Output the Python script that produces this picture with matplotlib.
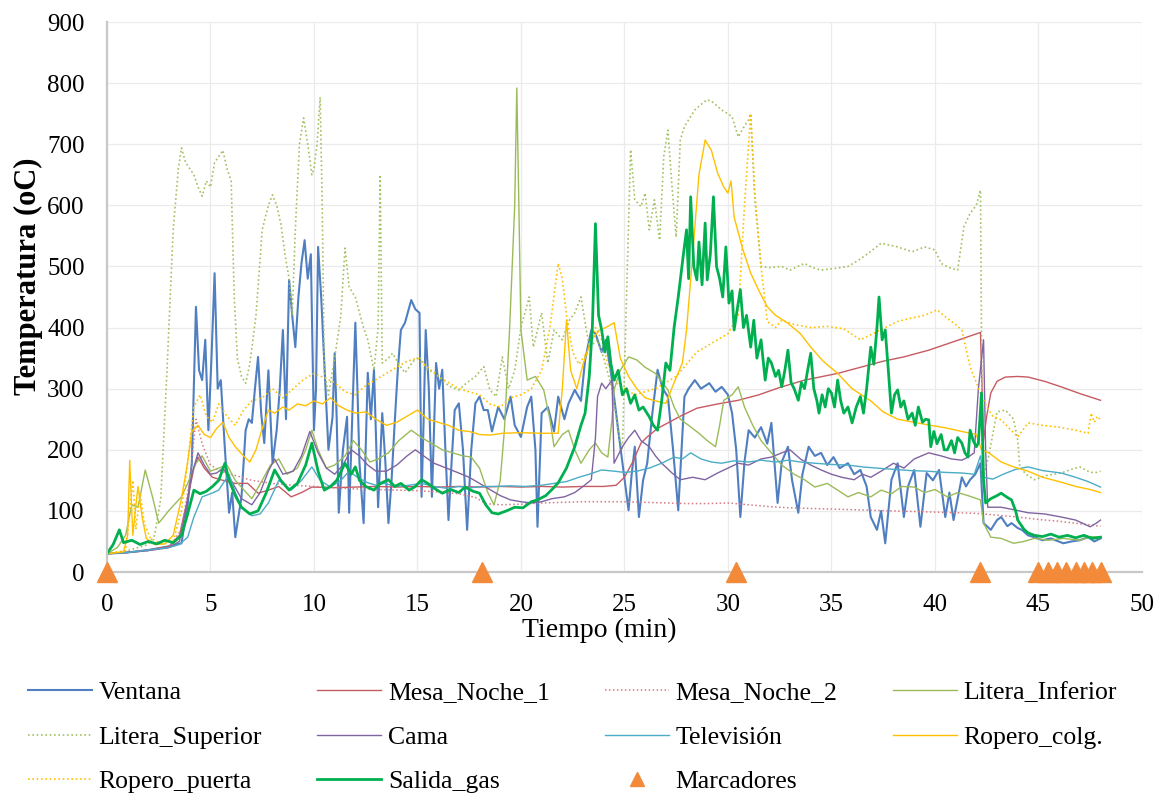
import numpy as np
import matplotlib.pyplot as plt
from matplotlib.lines import Line2D

plt.rcParams["font.family"] = ["Liberation Serif", "DejaVu Serif"]

#############################################################
##################### Data (min, oC) ########################
#############################################################

ventana = [(0,30),(1,32),(2,36),(3,42),(3.6,47),(3.9,110),(4.1,178),(4.3,434),(4.45,330),(4.6,314),
    (4.75,380),(4.9,232),(5.05,350),(5.2,489),(5.35,300),(5.5,314),(5.7,200),(5.9,97),(6.05,130),(6.2,57),
    (6.35,90),(6.5,123),(6.7,232),(6.85,250),(7.0,244),(7.15,300),(7.3,352),(7.45,260),(7.6,211),(7.8,330),
    (8.0,178),(8.2,232),(8.35,300),(8.5,396),(8.65,250),(8.8,478),(8.95,420),(9.1,368),(9.25,450),(9.4,506),
    (9.55,543),(9.7,480),(9.85,520),(10.0,232),(10.1,300),(10.2,532),(10.35,450),(10.5,342),(10.7,200),
    (10.9,254),(11.0,358),(11.1,250),(11.2,97),(11.4,200),(11.6,254),(11.7,97),(11.85,250),(12.0,408),
    (12.1,300),(12.2,178),(12.4,80),(12.6,326),(12.75,250),(12.9,331),(13.1,106),(13.3,260),(13.45,180),
    (13.6,80),(13.75,150),(13.9,244),(14.05,330),(14.2,396),(14.4,408),(14.7,445),(14.9,430),(15.1,424),
    (15.2,123),(15.3,250),(15.4,396),(15.55,300),(15.7,123),(15.9,342),(16.05,300),(16.2,331),(16.35,200),
    (16.5,85),(16.65,180),(16.8,265),(17.0,276),(17.2,200),(17.4,69),(17.6,200),(17.8,276),(18.0,287),
    (18.2,265),(18.4,265),(18.6,230),(18.9,270),(19.2,250),(19.5,287),(19.7,240),(20.0,221),(20.3,270),
    (20.5,287),(20.7,200),(20.8,74),(21.0,260),(21.3,270),(21.6,230),(21.8,287),(22.1,250),(22.3,276),
    (22.6,298),(22.9,280),(23.1,347),(23.4,396),(23.6,390),(23.9,360),(24.1,380),(24.4,314),(24.7,232),
    (24.9,180),(25.2,101),(25.35,160),(25.5,205),(25.7,90),(25.9,150),(26.1,178),(26.35,260),(26.6,331),
    (26.85,300),(27.1,287),(27.35,200),(27.6,101),(27.9,287),(28.1,300),(28.4,314),(28.7,300),(29.1,309),
    (29.4,295),(29.7,303),(30.0,290),(30.2,260),(30.4,200),(30.6,90),(30.8,180),(31.0,232),(31.3,220),
    (31.6,237),(31.9,210),(32.1,244),(32.4,113),(32.6,180),(32.9,205),(33.1,150),(33.4,97),(33.6,160),
    (33.9,205),(34.2,190),(34.5,195),(34.8,175),(35.1,188),(35.4,170),(35.8,178),(36.1,160),(36.4,167),
    (36.7,140),(36.9,90),(37.2,69),(37.4,100),(37.6,47),(37.9,151),(38.2,178),(38.5,90),(38.7,140),
    (39.0,167),(39.3,74),(39.6,162),(39.9,150),(40.2,167),(40.5,90),(40.7,130),(40.9,85),(41.1,120),
    (41.3,155),(41.5,140),(41.7,151),(41.95,160),(42.2,178),(42.35,80),(42.7,69),(43.0,85),(43.2,90),
    (43.5,75),(43.7,80),(44.0,72),(44.2,69),(44.5,60),(44.8,57),(45.2,52),(45.6,55),(46.2,47),(46.6,50),
    (47.0,52),(47.4,57),(47.7,50),(48.0,55)]

mesa_noche_1 = [(0,30),(1,32),(2,36),(3,42),(3.5,60),(3.9,120),(4.2,170),(4.4,188),(4.7,170),(5.1,155),
    (5.6,150),(6.2,145),(6.8,145),(7.3,129),(7.8,134),(8.3,140),(8.9,123),(9.4,130),(9.9,139),(11,138),
    (12,139),(13,140),(14,139),(15,140),(16,139),(17,140),(18,139),(19,140),(20,139),(21,140),(22,139),
    (23,140),(24,140),(24.6,142),(25.0,155),(25.4,180),(25.8,211),(26.1,221),(26.6,235),(27.1,244),
    (27.7,255),(28.5,268),(29.5,275),(30.5,281),(31.5,290),(32.5,302),(33.7,314),(35.3,325),(36.4,335),
    (37.5,345),(38.5,352),(39.7,363),(41.0,378),(42.2,392),(42.35,215),(42.5,255),(42.7,293),(43.0,312),
    (43.4,319),(44.0,320),(44.5,319),(45.3,312),(46.1,303),(47.0,292),(48.0,281)]

mesa_noche_2 = [(0,30),(1,32),(2,35),(3,40),(3.6,70),(4.0,150),(4.3,250),(4.6,210),(5.0,175),(5.5,165),
    (6.0,160),(7.0,150),(8.0,145),(9.0,142),(10.0,140),(11.0,138),(12.0,136),(13.0,135),(14.0,134),
    (15.0,133),(16.0,131),(17.0,128),(17.8,122),(18.3,112),(19.0,110),(20.0,111),(21.0,113),(22.0,114),
    (23.0,115),(24.0,115),(25.0,115),(26.0,114),(27.0,113),(28.0,112),(29.0,112),(30.0,113),(31.0,110),
    (32.0,107),(33.0,105),(34.0,104),(35.0,103),(36.0,102),(37.0,101),(38.0,100),(39.0,99),(40.0,98),
    (41.0,97),(42.0,96),(43.0,93),(44.0,90),(45.0,86),(46.0,83),(47.0,79),(48.0,75)]

litera_inferior = [(0,30),(0.5,40),(0.9,60),(1.2,110),(1.5,106),(1.85,167),(2.2,123),(2.5,80),(3.0,101),
    (3.6,123),(3.9,145),(4.3,178),(4.6,190),(5.0,165),(5.4,170),(5.8,175),(6.2,150),(6.6,135),(7.0,120),
    (7.5,150),(7.9,175),(8.3,185),(8.7,160),(9.2,170),(9.6,200),(9.9,232),(10.2,200),(10.6,170),(11.0,175),
    (11.5,190),(11.9,215),(12.3,200),(12.7,180),(13.1,185),(13.6,195),(14.1,215),(14.7,232),(15.2,220),
    (15.7,210),(16.2,200),(16.7,195),(17.2,190),(17.6,188),(18.0,170),(18.4,130),(18.7,110),(19.0,150),
    (19.2,232),(19.45,396),(19.7,600),(19.8,792),(19.9,600),(20.0,396),(20.3,314),(20.7,320),(21.1,298),
    (21.4,250),(21.6,205),(22.0,225),(22.3,232),(22.6,200),(22.9,178),(23.3,200),(23.6,211),(23.9,195),
    (24.2,188),(24.4,250),(24.5,298),(24.8,330),(25.2,352),(25.6,347),(26.0,335),(26.5,325),(27.1,298),
    (27.4,270),(27.7,250),(28.1,240),(28.6,227),(29.0,215),(29.4,205),(29.6,240),(29.8,281),(30.2,290),
    (30.5,303),(30.8,270),(31.2,240),(31.6,215),(32.1,195),(32.6,175),(33.2,160),(33.7,151),(34.2,139),
    (34.8,145),(35.3,134),(35.8,123),(36.3,130),(36.9,123),(37.4,134),(37.9,128),(38.4,140),(39.0,139),
    (39.5,130),(40.0,135),(40.6,123),(41.1,130),(41.6,125),(42.2,118),(42.35,80),(42.7,57),(43.2,55),
    (43.8,47),(44.3,50),(44.8,55),(45.5,52),(46.2,55),(47.0,52),(47.5,58),(48.0,57)]

litera_superior = [(0,30),(1,35),(2,45),(2.3,60),(2.6,120),(2.9,330),(3.2,560),(3.45,660),(3.6,694),
    (3.8,670),(4.0,660),(4.2,650),(4.4,630),(4.6,615),(4.8,640),(5.0,630),(5.2,670),(5.4,680),(5.6,690),
    (5.8,660),(6.0,640),(6.15,450),(6.3,350),(6.5,320),(6.7,309),(6.9,340),(7.2,420),(7.5,560),(7.8,600),
    (8.0,617),(8.2,600),(8.4,570),(8.6,520),(8.8,480),(8.95,420),(9.1,560),(9.3,700),(9.5,743),(9.7,700),
    (9.9,650),(10.0,660),(10.15,700),(10.3,777),(10.4,600),(10.5,330),(10.7,290),(11.0,350),(11.3,420),
    (11.5,530),(11.7,466),(12.0,450),(12.2,424),(12.4,400),(12.6,380),(12.9,330),(13.1,400),(13.2,650),
    (13.3,342),(13.6,350),(13.8,358),(14.1,340),(14.4,326),(14.8,345),(15.1,352),(15.5,330),(15.9,326),
    (16.3,310),(16.6,303),(17.0,298),(17.4,310),(17.8,320),(18.2,336),(18.5,298),(18.8,287),(19.1,352),
    (19.4,300),(19.7,330),(20.0,400),(20.4,450),(20.6,368),(21.0,424),(21.3,342),(21.6,396),(22.0,380),
    (22.3,410),(22.6,424),(22.9,450),(23.3,368),(23.7,380),(24.0,350),(24.4,300),(24.7,230),(24.9,200),
    (25.1,450),(25.3,691),(25.5,609),(25.8,598),(26.0,620),(26.2,560),(26.45,609),(26.7,543),(26.9,680),
    (27.1,723),(27.3,630),(27.5,548),(27.7,707),(27.9,729),(28.1,740),(28.4,756),(28.7,765),(29.0,773),
    (29.3,768),(29.7,756),(30.0,750),(30.2,745),(30.5,712),(30.8,730),(31.0,740),(31.1,750),(31.3,609),
    (31.6,500),(32.0,498),(32.6,500),(33.0,494),(33.7,505),(34.1,498),(34.5,494),(35.2,497),(35.8,500),
    (36.3,510),(36.8,522),(37.4,538),(37.8,535),(38.2,532),(38.9,524),(39.5,532),(40.0,527),(40.3,505),
    (40.7,498),(41.1,494),(41.4,565),(41.7,587),(42.0,600),(42.2,625),(42.3,150),(42.6,190),(43.0,262),
    (43.4,265),(43.8,250),(44.0,216),(44.1,172),(44.4,160),(44.8,151),(45.4,158),(46.1,162),(46.6,168),
    (47.0,172),(47.4,165),(47.7,162),(48.0,165)]

cama = [(0,30),(1,32),(2,35),(3,40),(3.5,50),(3.8,100),(4.1,160),(4.4,195),(4.7,175),(5.0,160),(5.3,162),
    (5.6,170),(6.0,150),(6.5,120),(7.0,110),(7.4,130),(7.8,165),(8.1,185),(8.5,160),(9.0,165),(9.4,190),
    (9.8,230),(10.2,195),(10.6,170),(11.0,160),(11.4,175),(11.8,200),(12.2,190),(12.6,175),(13.0,165),
    (13.5,165),(14.0,175),(14.5,190),(14.9,200),(15.3,190),(15.8,178),(16.4,170),(17.0,162),(17.5,155),
    (18.0,145),(18.5,135),(19.0,125),(19.5,118),(20.0,115),(20.5,113),(21.0,115),(21.5,120),(22.1,123),
    (22.6,130),(23.0,140),(23.4,151),(23.6,220),(23.7,287),(23.9,309),(24.1,300),(24.4,314),(24.5,178),
    (24.9,205),(25.2,220),(25.5,232),(25.8,215),(26.2,205),(26.5,190),(26.8,178),(27.3,162),(27.7,151),
    (28.3,155),(28.9,151),(29.5,162),(30.0,170),(30.5,178),(31.0,175),(31.6,185),(32.1,188),(32.6,195),
    (33.0,200),(33.5,185),(34.0,175),(34.5,167),(35.0,160),(35.5,155),(36.1,151),(36.5,160),(36.9,155),
    (37.4,165),(38.0,178),(38.5,170),(39.0,185),(39.7,195),(40.3,190),(40.8,185),(41.3,183),(41.6,188),
    (41.9,195),(42.1,300),(42.35,380),(42.45,200),(42.55,106),(43.2,106),(43.8,102),(44.5,97),(45.3,95),
    (46.1,90),(46.8,85),(47.5,74),(47.8,80),(48.0,85)]

television = [(0,30),(1,32),(2,36),(3,40),(3.5,45),(3.9,57),(4.2,90),(4.6,123),(5.0,128),(5.4,134),
    (5.9,160),(6.2,130),(6.5,106),(7.0,92),(7.4,95),(7.8,113),(8.3,150),(8.9,134),(9.4,150),(9.9,172),
    (10.3,150),(10.8,139),(11.3,150),(11.7,165),(12.1,155),(12.6,146),(13.0,142),(13.4,145),(14.0,140),
    (14.6,142),(15.2,145),(15.8,140),(16.4,137),(17.0,140),(17.6,138),(18.2,140),(18.8,140),(19.5,141),
    (20.2,140),(21.0,142),(21.6,145),(22.2,148),(22.8,155),(23.3,160),(23.9,167),(24.5,165),(25.0,163),
    (25.6,165),(26.2,170),(26.8,178),(27.4,188),(27.8,185),(28.2,195),(28.7,185),(29.2,180),(29.7,178),
    (30.3,182),(31.0,180),(31.6,183),(32.3,180),(32.9,183),(33.5,180),(34.2,178),(35.0,176),(35.8,175),
    (36.5,172),(37.2,170),(38.0,168),(38.8,166),(39.6,165),(40.5,163),(41.3,162),(41.9,160),(42.2,190),
    (42.35,155),(42.8,152),(43.3,160),(43.9,168),(44.5,172),(45.2,166),(46.1,162),(46.8,155),(47.4,148),
    (48.0,139)]

ropero_colg = [(0,30),(0.8,33),(1.0,60),(1.1,183),(1.25,60),(1.4,110),(1.5,140),(1.7,90),(1.9,55),
    (2.3,45),(2.8,46),(3.2,60),(3.6,120),(3.9,180),(4.1,230),(4.4,240),(4.7,225),(5.0,220),(5.3,235),
    (5.6,245),(5.9,220),(6.2,205),(6.6,190),(6.9,180),(7.2,200),(7.5,235),(7.8,265),(8.1,260),(8.5,270),
    (8.8,265),(9.2,275),(9.6,272),(10.0,280),(10.4,275),(10.8,285),(11.2,272),(11.6,265),(12.0,260),
    (12.5,262),(13.0,250),(13.5,240),(14.0,245),(14.5,255),(15.0,265),(15.5,250),(16.0,245),(16.5,240),
    (17.0,232),(17.5,230),(18.0,225),(18.5,224),(19.1,227),(20.0,228),(21.0,227),(21.8,227),(22.0,300),
    (22.2,412),(22.4,330),(22.7,300),(23.0,340),(23.4,380),(23.8,396),(24.1,400),(24.5,408),(24.8,350),
    (25.2,320),(25.6,300),(26.0,285),(26.5,280),(27.0,276),(27.4,310),(27.8,342),(28.0,396),(28.3,520),
    (28.6,650),(28.9,707),(29.2,690),(29.5,653),(29.8,630),(30.0,620),(30.15,640),(30.3,581),(30.7,530),
    (31.1,489),(31.5,460),(31.9,434),(32.3,420),(32.9,407),(33.5,390),(34.0,368),(34.6,345),(35.3,325),
    (36.0,300),(36.9,280),(37.5,262),(38.2,250),(39.0,245),(39.8,240),(40.5,236),(41.3,230),(42.0,225),
    (42.25,200),(42.6,195),(43.2,180),(43.8,172),(44.5,165),(45.2,155),(46.0,148),(46.8,140),(47.5,135),
    (48.0,130)]

ropero_puerta = [(0,30),(0.9,35),(1.1,100),(1.25,150),(1.4,70),(1.6,130),(1.8,80),(2.1,55),(2.6,47),
    (3.2,50),(3.6,100),(3.9,180),(4.2,270),(4.5,290),(4.8,255),(5.1,245),(5.4,275),(5.8,255),(6.2,240),
    (6.6,265),(7.0,280),(7.5,285),(8.0,300),(8.5,285),(9.0,300),(9.5,315),(10.0,325),(10.5,318),(11.0,310),
    (11.5,295),(12.0,290),(12.5,305),(13.0,315),(13.5,325),(14.0,335),(14.5,345),(15.0,350),(15.5,335),
    (16.0,320),(16.5,310),(17.0,300),(17.5,295),(18.0,290),(18.5,275),(19.0,270),(19.5,285),(20.0,290),
    (20.5,300),(21.0,330),(21.4,400),(21.8,505),(22.0,480),(22.2,420),(22.5,360),(22.8,340),(23.2,360),
    (23.6,400),(23.9,380),(24.2,340),(24.6,310),(25.0,300),(25.5,290),(26.0,295),(26.5,300),(27.0,310),
    (27.5,320),(28.0,340),(28.5,360),(29.0,370),(29.5,380),(30.0,390),(30.5,420),(30.8,600),(31.1,750),
    (31.3,620),(31.6,500),(31.9,410),(32.3,400),(32.6,412),(33.2,405),(34.0,400),(34.8,402),(35.6,398),
    (36.4,380),(37.0,390),(37.6,400),(38.2,410),(38.8,415),(39.5,420),(40.1,429),(40.6,415),(41.0,405),
    (41.3,396),(41.7,336),(42.2,293),(42.5,270),(42.8,255),(43.2,249),(43.6,235),(44.0,221),(44.5,244),
    (45.2,240),(46.0,237),(46.8,232),(47.4,227),(47.55,260),(47.7,245),(47.85,255),(48.0,249)]

salida_gas = [(0,30),(0.3,45),(0.6,69),(0.8,48),(1.2,52),(1.6,45),(2.0,50),(2.4,46),(2.8,52),(3.2,48),
    (3.6,60),(3.9,95),(4.2,134),(4.5,128),(4.8,132),(5.1,140),(5.4,150),(5.7,178),(5.9,150),(6.2,125),
    (6.5,106),(6.9,95),(7.3,100),(7.7,130),(8.1,167),(8.4,150),(8.8,134),(9.2,145),(9.6,175),(9.9,211),
    (10.2,165),(10.5,134),(10.8,140),(11.1,150),(11.5,178),(11.8,160),(12.0,172),(12.2,150),(12.5,140),
    (12.9,134),(13.2,145),(13.6,151),(13.9,140),(14.2,145),(14.6,134),(14.9,140),(15.2,151),(15.5,145),
    (15.9,135),(16.2,129),(16.6,135),(17.0,130),(17.3,139),(17.7,132),(18.0,129),(18.3,110),(18.6,97),
    (18.9,95),(19.3,100),(19.7,106),(20.1,105),(20.5,115),(20.8,118),(21.2,125),(21.5,135),(21.8,146),
    (22.2,170),(22.6,205),(22.9,240),(23.1,260),(23.3,320),(23.45,400),(23.6,570),(23.75,420),(23.9,396),
    (24.05,360),(24.2,385),(24.35,340),(24.5,314),(24.7,330),(24.9,290),(25.1,300),(25.3,276),(25.5,290),
    (25.7,265),(25.9,270),(26.2,254),(26.4,240),(26.6,232),(26.8,280),(27.0,342),(27.2,330),(27.4,400),
    (27.6,450),(27.7,478),(27.85,520),(28.0,560),(28.1,480),(28.2,614),(28.35,500),(28.5,478),(28.6,540),
    (28.75,470),(28.9,571),(29.0,478),(29.15,520),(29.3,614),(29.45,500),(29.6,480),(29.75,450),(29.9,532),
    (30.05,440),(30.2,460),(30.3,396),(30.45,430),(30.6,462),(30.75,400),(30.9,420),(31.1,368),(31.25,412),
    (31.4,350),(31.6,380),(31.8,314),(31.95,350),(32.1,342),(32.3,320),(32.45,330),(32.6,303),(32.75,330),
    (32.9,363),(33.05,310),(33.2,300),(33.4,281),(33.55,310),(33.7,300),(33.85,330),(34.0,358),(34.15,300),
    (34.3,280),(34.4,260),(34.55,290),(34.7,270),(34.85,300),(35.0,293),(35.15,270),(35.3,314),(35.45,280),
    (35.6,260),(35.8,270),(36.0,244),(36.2,270),(36.4,287),(36.55,260),(36.7,300),(36.9,368),(37.05,340),
    (37.2,400),(37.3,450),(37.45,380),(37.6,396),(37.75,330),(37.9,260),(38.05,290),(38.2,298),(38.35,270),
    (38.5,280),(38.7,250),(38.9,260),(39.05,240),(39.2,270),(39.4,245),(39.55,250),(39.7,249),(39.8,205),
    (39.95,230),(40.1,210),(40.3,225),(40.45,200),(40.6,200),(40.8,215),(40.95,195),(41.1,220),(41.3,211),
    (41.45,195),(41.6,188),(41.7,232),(41.85,215),(42.0,205),(42.1,211),(42.25,293),(42.35,150),(42.45,113),
    (42.7,120),(43.0,125),(43.2,129),(43.5,122),(43.7,118),(43.9,100),(44.0,85),(44.3,70),(44.5,64),
    (44.8,60),(45.2,58),(45.6,62),(46.0,57),(46.4,60),(46.8,56),(47.2,60),(47.6,55),(48.0,57)]

marcadores_t = [0, 18.1, 30.4, 42.2, 45.0, 45.45, 45.9, 46.35, 46.8, 47.2, 47.6, 48.0]

x_ticks = list(range(0, 51, 5))
y_ticks = list(range(0, 901, 100))

#############################################################
######################### Styles ############################
#############################################################

DOT = (0, (1.0, 1.6))
series = [
    ("Ventana",         ventana,         "#4F7FC0", "-", 1.5),
    ("Mesa_Noche_1",    mesa_noche_1,    "#C65A62", "-", 1.0),
    ("Mesa_Noche_2",    mesa_noche_2,    "#D47C86", DOT, 1.1),
    ("Litera_Inferior", litera_inferior, "#9BBB59", "-", 1.0),
    ("Litera_Superior", litera_superior, "#A3C060", DOT, 1.2),
    ("Cama",            cama,            "#8064A2", "-", 1.0),
    ("Televisión",      television,      "#4BACC6", "-", 1.0),
    ("Ropero_colg.",    ropero_colg,     "#FFC000", "-", 1.0),
    ("Ropero_puerta",   ropero_puerta,   "#FFC000", DOT, 1.2),
    ("Salida_gas",      salida_gas,      "#00B050", "-", 2.0),
]
MARK_COLOR = "#F28A3A"

fig = plt.figure(figsize=(11.6, 7.98), dpi=100)
ax = fig.add_axes([0.0922, 0.2832, 0.8922, 0.6892])

handles = {}
for name, pts, color, ls, lw in series:
    t, v = np.array(pts).T
    h, = ax.plot(t, v, color=color, linestyle=ls, linewidth=lw, label=name)
    handles[name] = h

ax.plot(marcadores_t, np.zeros(len(marcadores_t)), linestyle="none", marker="^",
        markersize=15, color=MARK_COLOR, clip_on=False, zorder=10)
handles["Marcadores"] = Line2D([], [], linestyle="none", marker="^", markersize=10,
                               color=MARK_COLOR)

ax.set_xlim(0, 50)
ax.set_ylim(0, 900)
ax.set_xticks(x_ticks)
ax.set_yticks(y_ticks)
ax.tick_params(length=0, labelsize=18)
ax.tick_params(axis="x", pad=16)
ax.tick_params(axis="y", pad=16)
ax.grid(True, color="#EBEBEB", linewidth=0.9)
ax.set_axisbelow(True)
for s in ("top", "right"):
    ax.spines[s].set_visible(False)
for s in ("left", "bottom"):
    ax.spines[s].set_color("#C8C8C8")
    ax.spines[s].set_linewidth(1.6)

ax.set_xlabel("Tiempo (min)", fontsize=20)
ax.xaxis.set_label_coords(0.476, -0.083)
ax.set_ylabel("Temperatura (oC)", fontsize=22, fontweight="bold")
ax.yaxis.set_label_coords(-0.062, 0.538)

# legend laid out row by row like the original
order = ["Ventana", "Litera_Superior", "Ropero_puerta",
         "Mesa_Noche_1", "Cama", "Salida_gas",
         "Mesa_Noche_2", "Televisión", "Marcadores",
         "Litera_Inferior", "Ropero_colg."]
fig.legend([handles[k] for k in order], order, loc="upper left",
           bbox_to_anchor=(0.024, 0.147), ncol=4, frameon=False,
           fontsize=18.5, handlelength=2.5, handletextpad=0.25,
           columnspacing=2.15, labelspacing=0.85, borderpad=0, borderaxespad=0)

fig.savefig("out.png", dpi=100)
